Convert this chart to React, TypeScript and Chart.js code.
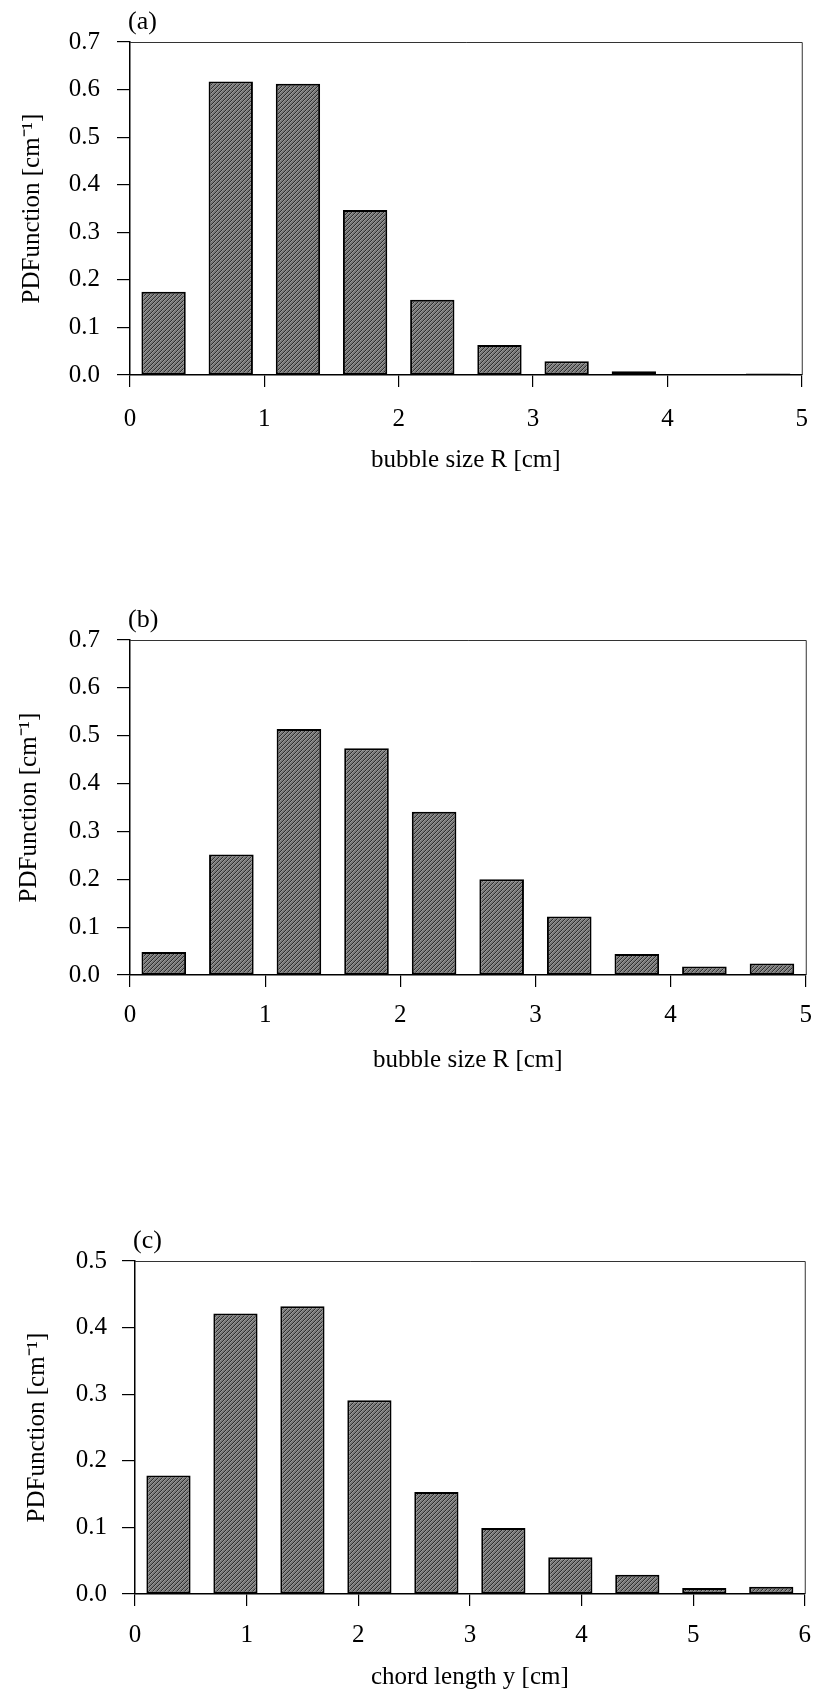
import React, { useEffect, useRef } from "react";
import { Chart, registerables } from "chart.js";

Chart.register(...registerables);

const FONT = '"Liberation Serif", "Times New Roman", serif';

// ---- data ----
const binsA = [0.25, 0.75, 1.25, 1.75, 2.25, 2.75, 3.25, 3.75, 4.25, 4.75];
const pdfA = [0.175, 0.617, 0.612, 0.347, 0.158, 0.063, 0.029, 0.008, 0.002, 0.003];

const binsB = [0.25, 0.75, 1.25, 1.75, 2.25, 2.75, 3.25, 3.75, 4.25, 4.75];
const pdfB = [0.048, 0.252, 0.514, 0.474, 0.341, 0.2, 0.122, 0.044, 0.018, 0.024];

const binsC = [0.3, 0.9, 1.5, 2.1, 2.7, 3.3, 3.9, 4.5, 5.1, 5.7];
const pdfC = [0.178, 0.421, 0.432, 0.291, 0.153, 0.099, 0.055, 0.029, 0.009, 0.011];

const panelLabels = ["(a)", "(b)", "(c)"];
const xTitles = ["bubble size R [cm]", "bubble size R [cm]", "chord length y [cm]"];
const yTitle = "PDFunction [cm\u207B\u00B9]";
const xMaxes = [5, 5, 6];
const yMaxes = [0.7, 0.7, 0.5];

// ---- layout (pixels) ----
const layouts = [
  { top: 0, height: 500, padTop: 42, padRight: 16, yWidth: 130, xHeight: 125, xTitlePad: 25, yTitlePad: 17, yTickPad: 17, xTickPad: 17 },
  { top: 520, height: 580, padTop: 120, padRight: 17, yWidth: 130, xHeight: 125, xTitlePad: 25, yTitlePad: 14, yTickPad: 17, xTickPad: 13 },
  { top: 1100, height: 593, padTop: 161, padRight: 12, yWidth: 135, xHeight: 99, xTitlePad: 1, yTitlePad: 22, yTickPad: 15, xTickPad: 14 },
];

const panels = [
  { x: binsA, y: pdfA },
  { x: binsB, y: pdfB },
  { x: binsC, y: pdfC },
];

function makePattern(ctx: CanvasRenderingContext2D) {
  const c = document.createElement("canvas");
  c.width = 4;
  c.height = 4;
  const p = c.getContext("2d")!;
  for (let i = 0; i < 4; i++) {
    for (let j = 0; j < 4; j++) {
      const d = (i + j) % 4;
      p.fillStyle = d === 3 ? "#2e2e2e" : d === 0 ? "#9a9a9a" : "#787878";
      p.fillRect(i, j, 1, 1);
    }
  }
  return ctx.createPattern(c, "repeat");
}

const framePlugin = {
  id: "panelFrame",
  afterDraw(chart: any, _args: any, opts: any) {
    const { ctx, chartArea } = chart;
    const { left, right, top, bottom } = chartArea;
    ctx.save();
    ctx.strokeStyle = "#333";
    ctx.lineWidth = 1;
    ctx.beginPath();
    ctx.moveTo(left, top + 0.5);
    ctx.lineTo(right + 0.5, top + 0.5);
    ctx.lineTo(right + 0.5, bottom);
    ctx.stroke();
    ctx.fillStyle = "#000";
    ctx.font = `26px ${FONT}`;
    ctx.textBaseline = "middle";
    ctx.textAlign = "left";
    ctx.fillText(opts.label, left - 2, top - 20);
    ctx.restore();
  },
};

function Panel({ idx }: { idx: number }) {
  const ref = useRef<HTMLCanvasElement>(null);
  const L = layouts[idx];
  useEffect(() => {
    const canvas = ref.current!;
    const ctx = canvas.getContext("2d")!;
    const pattern = makePattern(ctx);
    const d = panels[idx];
    const font = { family: FONT, size: 25 };
    const chart = new Chart(canvas, {
      type: "bar",
      data: {
        datasets: [
          {
            data: d.x.map((x, i) => ({ x, y: d.y[i] })),
            backgroundColor: pattern as any,
            borderColor: "#000",
            borderWidth: 2,
            borderSkipped: false,
            barPercentage: 0.66,
            categoryPercentage: 1,
          } as any,
        ],
      },
      options: {
        responsive: false,
        animation: false,
        layout: { padding: { top: L.padTop, right: L.padRight, left: 0, bottom: 0 } },
        plugins: {
          legend: { display: false },
          tooltip: { enabled: false },
          panelFrame: { label: panelLabels[idx] },
        } as any,
        scales: {
          x: {
            type: "linear",
            min: 0,
            max: xMaxes[idx],
            offset: false,
            afterFit: (s: any) => {
              s.height = L.xHeight;
            },
            grid: {
              offset: false,
              drawOnChartArea: false,
              drawTicks: true,
              tickLength: 12,
              color: "#000",
              lineWidth: 1.2,
            },
            border: { display: true, color: "#000", width: 1.5 },
            ticks: {
              stepSize: 1,
              padding: L.xTickPad,
              color: "#000",
              font,
              maxRotation: 0,
              autoSkip: false,
              callback: (v: any) => String(v),
            },
            title: {
              display: true,
              text: xTitles[idx],
              color: "#000",
              font,
              padding: { top: 0, bottom: L.xTitlePad },
            },
          },
          y: {
            type: "linear",
            min: 0,
            max: yMaxes[idx],
            afterFit: (s: any) => {
              s.width = L.yWidth;
            },
            grid: {
              drawOnChartArea: false,
              drawTicks: true,
              tickLength: 13,
              color: "#000",
              lineWidth: 1.2,
            },
            border: { display: true, color: "#000", width: 1.5 },
            ticks: {
              stepSize: 0.1,
              padding: L.yTickPad,
              color: "#000",
              font,
              callback: (v: any) => Number(v).toFixed(1),
            },
            title: {
              display: true,
              text: yTitle,
              color: "#000",
              font,
              padding: { top: L.yTitlePad, bottom: 0 },
            },
          },
        },
      } as any,
      plugins: [framePlugin],
    });
    return () => chart.destroy();
  }, [idx]);
  return (
    <canvas
      ref={ref}
      width={825}
      height={L.height}
      style={{ position: "absolute", left: 0, top: L.top, display: "block" }}
    />
  );
}

export default function App() {
  useEffect(() => {
    document.body.style.margin = "0";
  }, []);
  return (
    <div style={{ position: "absolute", left: 0, top: 0, width: 825, height: 1693, background: "#fff" }}>
      <Panel idx={0} />
      <Panel idx={1} />
      <Panel idx={2} />
    </div>
  );
}
